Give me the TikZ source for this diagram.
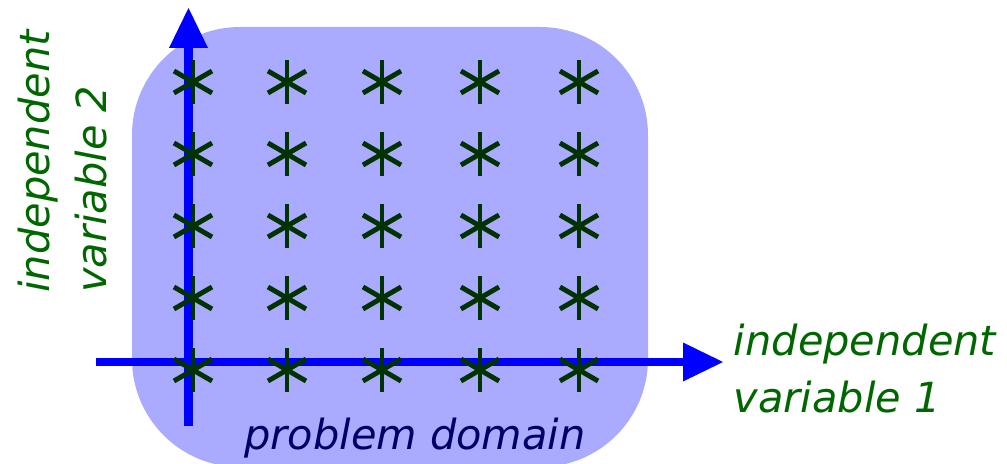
\documentclass[tikz,border=0pt]{standalone}
\usepackage{fontspec}
\setmainfont{DejaVu Sans}
\usepackage{xcolor}
\usepackage{tikz}
\usetikzlibrary{arrows.meta}

\definecolor{domainfill}{HTML}{AAAAFF}
\definecolor{axisblue}{HTML}{0000FF}
\definecolor{gridgreen}{HTML}{003300}
\definecolor{labelgreen}{HTML}{006600}
\definecolor{domainnavy}{HTML}{000066}

\begin{document}
\begin{tikzpicture}[
    x=0.025cm, y=-0.025cm,
    domainbox/.style={fill=domainfill, rounded corners=2.7cm},
    axisline/.style={draw=axisblue, line width=5.7pt, -{Triangle[length=28.4pt, width=27.7pt, line width=0pt]}},
    gridpoint/.style={draw=gridgreen, line width=3.5pt},
    varlabel/.style={text=labelgreen, font=\fontsize{29.5}{41}\selectfont\itshape, align=left, inner sep=0pt},
    domainlabel/.style={text=domainnavy, font=\fontsize{29.5}{41}\selectfont\itshape, inner sep=0pt}
]
\useasboundingbox (0,0) rectangle (1007,464);

% Problem domain
\fill[domainbox] (132,27) rectangle (648,467);

% Axes
\coordinate (xfrom) at (96,362);
\coordinate (xto) at (723,362);
\coordinate (yfrom) at (188.5,426);
\coordinate (yto) at (188.5,8);
\draw[axisline] (xfrom) -- (xto);
\draw[axisline] (yfrom) -- (yto);

% Grid points
\foreach \cx in {193,287,382,480,579}
  \foreach \cy in {82,154,226,298,370}
    \foreach \a in {90,30,-30}
      \draw[gridpoint] (\cx,\cy) ++(\a:22) -- ++(\a+180:44);

% Labels
\node[varlabel, rotate=90] (var2) at (62.5,161.5) {independent\\variable 2};
\node[varlabel] (var1) at (865,368.5) {independent\\variable 1};
\node[domainlabel, anchor=base] (domlabel) at (415,450) {problem domain};

\end{tikzpicture}
\end{document}
